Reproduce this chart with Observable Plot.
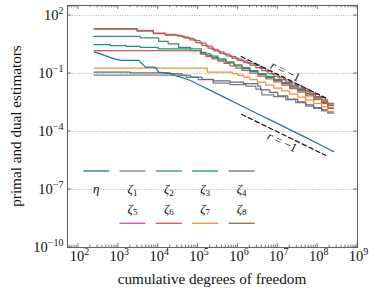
<!DOCTYPE html>
<html>
<head>
<meta charset="utf-8">
<script src="https://cdn.jsdelivr.net/npm/d3@7"></script>
<script src="https://cdn.jsdelivr.net/npm/@observablehq/plot@0.6"></script>
<style>
  html, body { margin: 0; padding: 0; background: #fff; }
  svg text { font-family: 'Liberation Serif' !important; }
</style>
</head>
<body>
<div id="chart"></div>
<script>
// ---- data (values given as log10 of x = cumulative dofs, log10 of y = estimator) ----
const names  = ["η", "ζ1", "ζ2", "ζ3", "ζ4", "ζ5", "ζ6", "ζ7", "ζ8"];
const colors = ["#1874b3", "#7d7d7d", "#3a8a78", "#15977f", "#676b7e", "#c9559c", "#d2594c", "#ee9530", "#9a6a3c"];

const eta = [[2.39,0.12],[2.55,0.02],[2.80,-0.18],[3.05,-0.32],[3.51,-0.32],[3.68,-0.67],[3.93,-0.67],[4.01,-0.93],
  [4.30,-1.01],[4.56,-1.19],[4.81,-1.36],[5.06,-1.62],[5.31,-1.87],[5.70,-2.27],[6.10,-2.68],[6.50,-3.09],
  [6.90,-3.49],[7.30,-3.90],[7.70,-4.30],[8.10,-4.72],[8.40,-5.04]];
const zeta1 = [[2.39,-1.08],[4.40,-1.10],[4.70,-1.20],[5.00,-1.32],[5.38,-1.50],[5.80,-1.58],[6.20,-1.65],[6.45,-1.80],
  [6.60,-2.10],[6.90,-2.20],[7.20,-2.35],[7.45,-2.50],[7.70,-2.68],[7.90,-2.80],[8.10,-2.93],[8.25,-3.05],[8.40,-3.05]];
const zeta2 = [[2.39,0.92],[3.55,0.85],[4.01,0.67],[4.25,0.54],[4.51,0.36],[4.81,0.19],[5.06,0.02],[5.31,-0.10],
  [5.50,-0.24],[5.70,-0.40],[5.90,-0.55],[6.10,-0.70],[6.30,-0.85],[6.50,-1.00],[6.70,-1.15],[6.90,-1.30],
  [7.10,-1.47],[7.30,-1.65],[7.50,-1.83],[7.70,-2.02],[7.90,-2.22],[8.10,-2.44],[8.25,-2.62],[8.40,-2.62]];
const zeta3 = [[2.39,0.49],[2.80,0.45],[3.20,0.40],[3.55,0.36],[3.97,0.33],[4.01,0.28],[5.08,0.10],[5.20,-0.05],
  [5.35,-0.18],[5.50,-0.30],[5.70,-0.45],[5.90,-0.60],[6.10,-0.75],[6.30,-0.90],[6.50,-1.05],[6.70,-1.20],
  [6.90,-1.36],[7.10,-1.52],[7.30,-1.70],[7.50,-1.88],[7.70,-2.07],[7.90,-2.27],[8.10,-2.50],[8.25,-2.78],[8.40,-2.78]];
const zeta4 = [[2.39,-0.93],[3.30,-0.97],[4.30,-1.01],[4.60,-1.10],[4.81,-1.19],[5.10,-1.30],[5.38,-1.38],[5.80,-1.45],
  [6.14,-1.52],[6.50,-1.65],[6.57,-1.85],[6.80,-1.98],[7.00,-2.15],[7.25,-2.32],[7.50,-2.47],[7.70,-2.62],
  [7.90,-2.76],[8.10,-2.88],[8.25,-2.98],[8.40,-2.98]];
const zeta5 = [[2.39,1.33],[3.47,1.23],[3.88,1.09],[4.18,1.02],[4.45,0.98],[4.60,0.90],[4.75,0.82],[4.90,0.70],
  [5.05,0.57],[5.20,0.42],[5.35,0.25],[5.50,0.12],[5.65,0.00],[5.80,-0.12],[5.95,-0.24],[6.10,-0.35],[6.25,-0.47],
  [6.40,-0.58],[6.55,-0.73],[6.70,-0.88],[6.85,-1.03],[7.00,-1.18],[7.15,-1.33],[7.30,-1.48],[7.45,-1.63],
  [7.60,-1.78],[7.75,-1.93],[7.90,-2.08],[8.05,-2.24],[8.20,-2.55],[8.40,-2.55]];
const zeta6 = [[2.39,0.19],[5.06,0.02],[5.20,-0.12],[5.35,-0.24],[5.50,-0.36],[5.65,-0.48],[5.80,-0.60],[5.95,-0.72],
  [6.10,-0.84],[6.30,-0.98],[6.50,-1.13],[6.70,-1.28],[6.90,-1.43],[7.10,-1.60],[7.30,-1.78],[7.50,-1.96],
  [7.70,-2.15],[7.90,-2.35],[8.10,-2.56],[8.25,-2.80],[8.40,-2.80]];
const zeta7 = [[2.39,-0.72],[5.23,-0.93],[5.86,-1.01],[6.00,-1.10],[6.14,-1.19],[6.30,-1.32],[6.49,-1.45],[6.70,-1.60],
  [6.90,-1.75],[7.10,-1.90],[7.30,-2.06],[7.50,-2.22],[7.70,-2.38],[7.90,-2.55],[8.10,-2.72],[8.25,-2.98],[8.40,-2.98]];
const zeta8 = [[2.39,1.30],[3.47,1.20],[3.88,1.06],[4.18,0.99],[4.50,0.93],[4.65,0.84],[4.80,0.74],[4.95,0.60],
  [5.10,0.46],[5.25,0.31],[5.40,0.17],[5.55,0.04],[5.70,-0.08],[5.85,-0.20],[6.00,-0.32],[6.15,-0.44],[6.30,-0.56],
  [6.45,-0.70],[6.60,-0.85],[6.75,-1.00],[6.90,-1.15],[7.05,-1.30],[7.20,-1.45],[7.35,-1.60],[7.50,-1.75],
  [7.65,-1.90],[7.80,-2.05],[7.95,-2.20],[8.10,-2.36],[8.25,-2.66],[8.40,-2.66]];

// reference slopes (log10 endpoints) and their labels
const slopeUpper = [[6.08,-0.12],[8.20,-2.26]];
const slopeLower = [[6.09,-3.11],[8.20,-5.23]];
const slopeLabels = [[7.19,-0.89],[7.11,-4.54]];

const xTickExps = [2,3,4,5,6,7,8,9];
const yTickExps = [2,-1,-4,-7,-10];

const FONT = "Liberation Serif";

// ---- build table ----
const seriesPts = [eta, zeta1, zeta2, zeta3, zeta4, zeta5, zeta6, zeta7, zeta8];
const rows = seriesPts.flatMap((pts, i) => pts.map(([lx, ly]) => ({name: names[i], x: 10 ** lx, y: 10 ** ly})));
const stepRows = rows.filter(d => d.name !== "η");
const etaRows = rows.filter(d => d.name === "η");
const toPts = (a, k) => a.map(([lx, ly]) => ({x: 10 ** lx, y: 10 ** ly, k}));
const slopeRows = [...toPts(slopeUpper, "u"), ...toPts(slopeLower, "l")];
const labelRows = toPts(slopeLabels, "t");

const chart = Plot.plot({
  width: 377, height: 297,
  marginLeft: 67, marginRight: 20, marginTop: 5, marginBottom: 50,
  style: {fontFamily: FONT},
  x: {type: "log", domain: [10 ** 1.724, 1e9], axis: null},
  y: {type: "log", domain: [1e-10, 10 ** 2.52], axis: null},
  color: {domain: names, range: colors},
  marks: [
    Plot.gridY(yTickExps.slice(0, 4).map(e => 10 ** e), {stroke: "#b5b5b5", strokeOpacity: 1, strokeDasharray: "1,1.4"}),
    Plot.line(stepRows, {x: "x", y: "y", z: "name", stroke: "name", curve: "step-after", strokeWidth: 1.25}),
    Plot.line(etaRows, {x: "x", y: "y", stroke: "name", strokeWidth: 1.25}),
    Plot.line(slopeRows, {x: "x", y: "y", z: "k", stroke: "#111", strokeWidth: 1.2, strokeDasharray: "4.5,3"}),
    Plot.text(labelRows, {x: "x", y: "y", text: () => "r = −1", rotate: 26, fontSize: 12.5, fill: "#111",
      stroke: "white", strokeWidth: 3, fontFamily: FONT, className: "slope"}),
    Plot.frame({stroke: "#666", strokeWidth: 1.1})
  ]
});
chart.setAttribute("font-family", FONT);
document.getElementById("chart").appendChild(chart);

// ---- axes drawn with the plot's own scales ----
const sx = chart.scale("x"), sy = chart.scale("y");
const svg = d3.select(chart);
const [X0, X1] = sx.range, [Y1, Y0] = sy.range;
const g = svg.append("g").attr("stroke", "#555").attr("stroke-width", 0.8);
for (let e = 1; e <= 9; e++) {
  for (let m = 1; m <= 9; m++) {
    const v = m * 10 ** e;
    if (v < sx.domain[0] || v > sx.domain[1]) continue;
    const px = sx.apply(v), len = m === 1 ? 4 : 2.3;
    g.append("line").attr("x1", px).attr("x2", px).attr("y1", Y1).attr("y2", Y1 - len);
    g.append("line").attr("x1", px).attr("x2", px).attr("y1", Y0).attr("y2", Y0 + len);
  }
}
yTickExps.forEach(e => {
  const py = sy.apply(10 ** e);
  g.append("line").attr("x1", X0).attr("x2", X0 + 4).attr("y1", py).attr("y2", py);
  g.append("line").attr("x1", X1).attr("x2", X1 - 4).attr("y1", py).attr("y2", py);
});
const fmtExp = e => String(e).replace("-", "−");
const tl = svg.append("g").attr("fill", "#111").attr("font-size", 14.5);
xTickExps.forEach(e => {
  const t = tl.append("text").attr("x", sx.apply(10 ** e) + 1.5).attr("y", Y1 + 14).attr("text-anchor", "middle");
  t.append("tspan").text("10");
  t.append("tspan").attr("dy", -6).attr("font-size", 10).text(fmtExp(e));
});
yTickExps.forEach(e => {
  const t = tl.append("text").attr("x", X0 - 3.5).attr("y", sy.apply(10 ** e) + 5).attr("text-anchor", "end");
  t.append("tspan").text("10");
  t.append("tspan").attr("dy", -6).attr("font-size", 10).text(fmtExp(e));
});
svg.append("text").attr("x", (X0 + X1) / 2).attr("y", 283.5).attr("text-anchor", "middle")
  .attr("font-size", 15.2).attr("fill", "#111").text("cumulative degrees of freedom");
svg.append("text").attr("transform", `translate(20.5,${(Y0 + Y1) / 2}) rotate(-90)`).attr("text-anchor", "middle")
  .attr("font-size", 15.2).attr("fill", "#111").text("primal and dual estimators");

// italic r in slope labels
svg.selectAll(".slope text").each(function () {
  const t = d3.select(this);
  t.text("");
  t.append("tspan").attr("font-style", "italic").text("r");
  t.append("tspan").text(" = −1");
});

// ---- legend (2 rows of samples, labels between) ----
const leg = svg.append("g");
const colX = [96.3, 132.5, 168.8, 205.2, 241.6];
const legendTop = [0, 1, 2, 3, 4];      // η, ζ1..ζ4
const legendBottom = [5, 6, 7, 8];      // ζ5..ζ8
function legendLabel(i, x, y) {
  const t = leg.append("text").attr("x", x).attr("y", y).attr("text-anchor", "middle").attr("font-size", 13).attr("fill", "#111");
  t.append("tspan").attr("font-style", "italic").text(names[i].charAt(0));
  if (names[i].length > 1) t.append("tspan").attr("dy", 2.5).attr("font-size", 9).text(names[i].slice(1));
}
legendTop.forEach((i, c) => {
  leg.append("line").attr("x1", colX[c] - 13).attr("x2", colX[c] + 13).attr("y1", 171).attr("y2", 171)
    .attr("stroke", colors[i]).attr("stroke-width", 1.3);
  legendLabel(i, colX[c], 193);
});
legendBottom.forEach((i, c) => {
  leg.append("line").attr("x1", colX[c + 1] - 13).attr("x2", colX[c + 1] + 13).attr("y1", 223.3).attr("y2", 223.3)
    .attr("stroke", colors[i]).attr("stroke-width", 1.3);
  legendLabel(i, colX[c + 1], 212.5);
});
</script>
</body>
</html>
